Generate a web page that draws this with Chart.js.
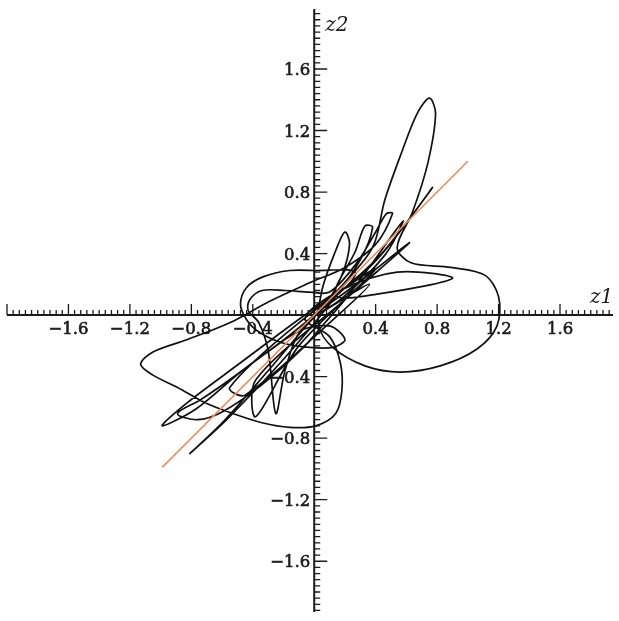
<!DOCTYPE html>
<html>
<head>
<meta charset="utf-8">
<script src="https://cdn.jsdelivr.net/npm/chart.js@4"></script>
<style>
  html, body { margin: 0; padding: 0; background: #fff; }
  canvas { display: block; }
</style>
</head>
<body>
<canvas id="c" width="619" height="621"></canvas>
<script>
// Trajectory in the (z1, z2) plane
const curveZ1 = [
  0.00, 0.17, 0.38, 0.46, 0.57, 0.67, 0.75, 0.79, 0.74, 0.64,
  0.54, 0.63, 0.89, 1.11, 1.20, 1.19, 1.06, 0.82, 0.56, 0.33,
  0.12, 0.03, 0.05, 0.14, 0.20, 0.23, 0.18, 0.07, -0.16, -0.48,
  -0.77, -0.99, -0.84, -0.48, -0.09, 0.27, 0.46, 0.77, 0.43, 0.04,
  -0.29, -0.58, -0.81, -0.56, -0.22, 0.10, 0.30, 0.38, 0.33, 0.27,
  0.14, 0.43, 0.90, 0.54, 0.17, -0.06, 0.10, 0.17, 0.18, 0.14,
  0.01, -0.16, -0.34, -0.53, -0.71, -0.89, -1.05, -1.13, -1.05, -0.83,
  -0.55, -0.29, -0.03, 0.20, 0.40, 0.51, 0.47, 0.40, 0.27, 0.10,
  -0.03, -0.19, -0.34, -0.42, -0.43, -0.36, -0.30, -0.25, -0.19, -0.09,
  0.27, -0.01, -0.16, -0.33, -0.44, -0.48, -0.44, -0.36, -0.21, -0.03,
  0.12, 0.20, 0.10, -0.09, -0.29, -0.55, -0.74, -0.89, -0.76, -0.60,
  -0.35, -0.09, 0.07, 0.20, 0.38, 0.53, 0.58, 0.46, 0.17, 0.00,
  0.30, 0.62, 0.20, -0.38, -0.38, -0.10, 0.40, -0.10, -0.55, -0.45,
  0.10, 0.36, 0.05
];
const curveZ2 = [
  0.00, 0.18, 0.44, 0.75, 1.06, 1.31, 1.41, 1.31, 0.99, 0.67,
  0.44, 0.34, 0.31, 0.26, 0.12, -0.07, -0.22, -0.33, -0.37, -0.33,
  -0.21, -0.07, 0.16, 0.42, 0.54, 0.46, 0.26, 0.07, -0.13, -0.37,
  -0.61, -0.72, -0.58, -0.31, -0.02, 0.23, 0.42, 0.83, 0.39, 0.03,
  -0.35, -0.68, -0.90, -0.67, -0.31, 0.07, 0.36, 0.57, 0.58, 0.42,
  0.13, 0.14, 0.24, 0.28, 0.16, -0.02, -0.14, -0.31, -0.49, -0.64,
  -0.72, -0.73, -0.70, -0.64, -0.57, -0.47, -0.39, -0.32, -0.24, -0.16,
  -0.05, 0.09, 0.21, 0.31, 0.46, 0.66, 0.66, 0.54, 0.33, 0.15,
  0.15, 0.16, 0.16, 0.10, 0.03, -0.05, -0.23, -0.64, -0.36, -0.10,
  0.27, 0.29, 0.29, 0.25, 0.18, 0.07, -0.03, -0.11, -0.18, -0.21,
  -0.21, -0.16, -0.07, -0.10, -0.23, -0.42, -0.55, -0.64, -0.68, -0.63,
  -0.46, -0.23, -0.05, 0.10, 0.34, 0.55, 0.61, 0.39, 0.10, 0.00,
  0.22, 0.47, 0.10, -0.42, -0.66, -0.20, 0.30, -0.05, -0.47, -0.52,
  -0.05, 0.20, 0.02
];

// Straight reference line z2 = z1
const fitZ1 = [-0.99, 1.00];
const fitZ2 = [-0.99, 1.00];

// Axis decoration
const majorTicks = [-1.6, -1.2, -0.8, -0.4, 0.4, 0.8, 1.2, 1.6];
const tickLabels = ['\u22121.6', '\u22121.2', '\u22120.8', '\u22120.4', '0.4', '0.8', '1.2', '1.6'];
const minorStep = 0.04;
const axisTitles = ['z1', 'z2'];

const toPoints = (xs, ys) => xs.map((v, i) => ({ x: v, y: ys[i] }));

// Cross-shaped axes through the origin with major/minor tick marks
const crossAxes = {
  id: 'crossAxes',
  beforeDatasetsDraw(chart) {
    const { ctx, scales: { x, y } } = chart;
    const x0 = x.getPixelForValue(0);
    const y0 = y.getPixelForValue(0);
    ctx.save();
    ctx.strokeStyle = '#1a1a1a';
    ctx.lineWidth = 2;
    ctx.beginPath();
    ctx.moveTo(x.left, y0); ctx.lineTo(x.right, y0);
    ctx.moveTo(x0, y.top); ctx.lineTo(x0, y.bottom);
    ctx.stroke();

    ctx.lineWidth = 1.3;
    ctx.beginPath();
    for (let i = Math.ceil(x.min / minorStep - 1e-6); i * minorStep <= x.max + 1e-6; i++) {
      const px = x.getPixelForValue(i * minorStep);
      const len = (i % 10 === 0) ? 11 : 5;
      ctx.moveTo(px, y0); ctx.lineTo(px, y0 - len);
    }
    for (let i = Math.ceil(y.min / minorStep - 1e-6); i * minorStep <= y.max + 1e-6; i++) {
      const py = y.getPixelForValue(i * minorStep);
      const len = (i % 10 === 0) ? 13 : 6;
      ctx.moveTo(x0, py); ctx.lineTo(x0 + len, py);
    }
    ctx.stroke();

    // heavier-looking labels: fill plus a thin outline
    ctx.fillStyle = '#1a1a1a';
    ctx.lineWidth = 0.6;
    ctx.font = '16.5px "DejaVu Serif"';
    ctx.textBaseline = 'alphabetic';
    ctx.textAlign = 'center';
    majorTicks.forEach((v, i) => {
      const px = x.getPixelForValue(v);
      ctx.fillText(tickLabels[i], px, y0 + 19);
      ctx.strokeText(tickLabels[i], px, y0 + 19);
    });
    ctx.textAlign = 'right';
    majorTicks.forEach((v, i) => {
      const py = y.getPixelForValue(v) + 6;
      ctx.fillText(tickLabels[i], x0 - 4, py);
      ctx.strokeText(tickLabels[i], x0 - 4, py);
    });

    ctx.font = 'italic 20px "DejaVu Serif"';
    ctx.textAlign = 'left';
    ctx.fillText(axisTitles[0], x.right - 23, y0 - 12);
    ctx.fillText(axisTitles[1], x0 + 11, y.top + 22);
    ctx.restore();
  }
};

new Chart(document.getElementById('c'), {
  type: 'line',
  data: {
    datasets: [
      {
        data: toPoints(fitZ1, fitZ2),
        borderColor: '#f08a5a',
        borderWidth: 1.6,
        pointRadius: 0,
        tension: 0,
        order: 0
      },
      {
        data: toPoints(curveZ1, curveZ2),
        borderColor: '#111111',
        borderWidth: 1.7,
        pointRadius: 0,
        tension: 0.32,
        order: 1
      }
    ]
  },
  options: {
    responsive: false,
    animation: false,
    events: [],
    layout: { padding: { left: 7, right: 6, top: 9, bottom: 9 } },
    scales: {
      x: { type: 'linear', min: -2.0, max: 1.945, display: false },
      y: { type: 'linear', min: -1.93, max: 1.99, display: false }
    },
    plugins: { legend: { display: false }, tooltip: { enabled: false } }
  },
  plugins: [crossAxes]
});
</script>
</body>
</html>
